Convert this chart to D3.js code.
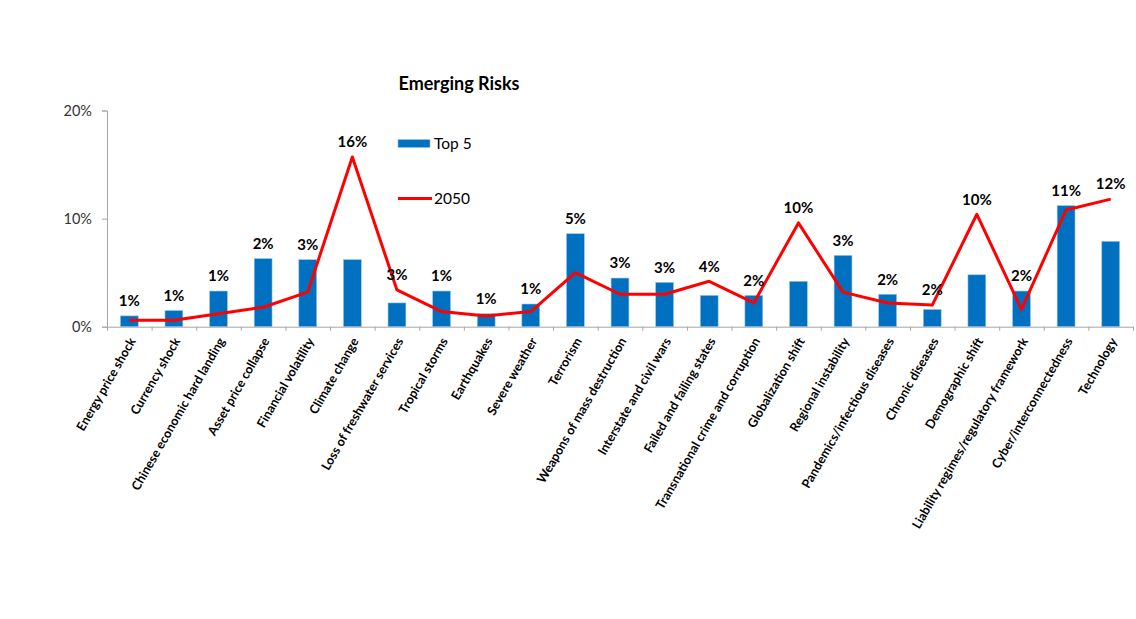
<!DOCTYPE html>
<html>
<head>
<meta charset="utf-8">
<script src="https://cdn.jsdelivr.net/npm/d3@7/dist/d3.min.js"></script>
<style>
  html, body { margin: 0; padding: 0; background: #fff; }
  svg { display: block; font-family: Lato, "Open Sans", sans-serif; }
</style>
</head>
<body>
<script>
const categories = [
  "Energy price shock", "Currency shock", "Chinese economic hard landing", "Asset price collapse",
  "Financial volatility", "Climate change", "Loss of freshwater services", "Tropical storms",
  "Earthquakes", "Severe weather", "Terrorism", "Weapons of mass destruction",
  "Interstate and civil wars", "Failed and failing states", "Transnational crime and corruption",
  "Globalization shift", "Regional instability", "Pandemics/infectious diseases", "Chronic diseases",
  "Demographic shift", "Liability regimes/regulatory framework", "Cyber/interconnectedness", "Technology"
];
const top5 = [1.0, 1.5, 3.3, 6.3, 6.2, 6.2, 2.2, 3.3, 1.2, 2.1, 8.6, 4.5, 4.1, 2.9, 2.9, 4.2, 6.6, 3.0, 1.6, 4.8, 3.3, 11.2, 7.9];
const y2050 = [0.6, 0.6, 1.2, 1.8, 3.2, 15.7, 3.4, 1.4, 1.0, 1.4, 5.0, 3.0, 3.0, 4.2, 2.2, 9.6, 3.2, 2.2, 2.0, 10.4, 1.6, 10.8, 11.8];
const yTicks = [0, 10, 20];
const seriesNames = ["Top 5", "2050"];
const title = "Emerging Risks";

const W = 1136, H = 619;
const svg = d3.select("body").append("svg").attr("width", W).attr("height", H);

const x = d3.scaleBand().domain(categories).range([107, 1133]).paddingInner(0.6).paddingOuter(0.3);
const xc = d3.scalePoint().domain(categories).range([107, 1133]).padding(0.5);
const y = d3.scaleLinear().domain([0, 20]).range([326.7, 110.5]);

const axisColor = "#a6a6a6";

// Y axis
const yAxis = svg.append("g").attr("transform", "translate(107,0)")
  .call(d3.axisLeft(y).tickValues(yTicks).tickSize(5).tickPadding(10).tickFormat(d => d + "%"));
yAxis.select(".domain").attr("stroke", axisColor);
yAxis.selectAll(".tick line").attr("stroke", axisColor);
yAxis.selectAll(".tick text").attr("font-size", 14.5).attr("fill", "#333").attr("font-family", "Lato, sans-serif");

// X axis line + ticks at band boundaries
const xBound = d3.scaleLinear().domain([0, categories.length]).range([107, 1133]);
const xAxis = svg.append("g").attr("transform", `translate(0,${y(0)})`)
  .call(d3.axisBottom(xBound).tickValues(d3.range(0, categories.length + 1)).tickSize(4).tickSizeOuter(0).tickFormat(""));
xAxis.select(".domain").attr("stroke", axisColor);
xAxis.selectAll(".tick line").attr("stroke", axisColor);

// Bars
svg.append("g").selectAll("rect").data(categories).join("rect")
  .attr("x", d => x(d))
  .attr("width", x.bandwidth())
  .attr("y", (d, i) => y(top5[i]))
  .attr("height", (d, i) => y(0) - y(top5[i]))
  .attr("fill", "#0070C0")
  .attr("stroke", "#9cc3e5")
  .attr("stroke-width", 0.6);

// Line
const line = d3.line().x((d, i) => xc(categories[i])).y(d => y(d));
svg.append("path").datum(y2050)
  .attr("d", line)
  .attr("fill", "none")
  .attr("stroke", "#FF0000")
  .attr("stroke-width", 3)
  .attr("stroke-linejoin", "round");

// Data labels (2050 values)
svg.append("g").selectAll("text").data(y2050).join("text")
  .attr("x", (d, i) => xc(categories[i]))
  .attr("y", (d, i) => Math.min(y(d), y(top5[i])) - 15)
  .attr("dy", "0.35em")
  .attr("text-anchor", "middle")
  .attr("font-size", 15)
  .attr("font-weight", "bold")
  .attr("fill", "#000")
  .text(d => Math.round(d) + "%");

// Category labels
svg.append("g").selectAll("text").data(categories).join("text")
  .attr("transform", d => `translate(${xc(d) + 3},${y(0) + 12}) rotate(-60)`)
  .attr("text-anchor", "end")
  .attr("dy", "0.35em")
  .attr("font-size", 12.6)
  .attr("font-weight", "bold")
  .attr("fill", "#000")
  .text(d => d);

// Title
svg.append("text")
  .attr("x", 459).attr("y", 84).attr("dy", "0.35em")
  .attr("text-anchor", "middle")
  .attr("font-size", 18).attr("font-weight", "bold").attr("fill", "#000")
  .text(title);

// Legend
const lg = svg.append("g");
lg.append("rect").attr("x", 398).attr("y", 139.5).attr("width", 32).attr("height", 8)
  .attr("fill", "#0070C0").attr("stroke", "#9cc3e5").attr("stroke-width", 0.6);
lg.append("text").attr("x", 434).attr("y", 143.5).attr("dy", "0.35em")
  .attr("font-size", 15.5).attr("fill", "#000").text(seriesNames[0]);
lg.append("line").attr("x1", 398).attr("x2", 432).attr("y1", 198.5).attr("y2", 198.5)
  .attr("stroke", "#FF0000").attr("stroke-width", 3);
lg.append("text").attr("x", 434).attr("y", 198.5).attr("dy", "0.35em")
  .attr("font-size", 15.5).attr("fill", "#000").text(seriesNames[1]);
</script>
</body>
</html>
